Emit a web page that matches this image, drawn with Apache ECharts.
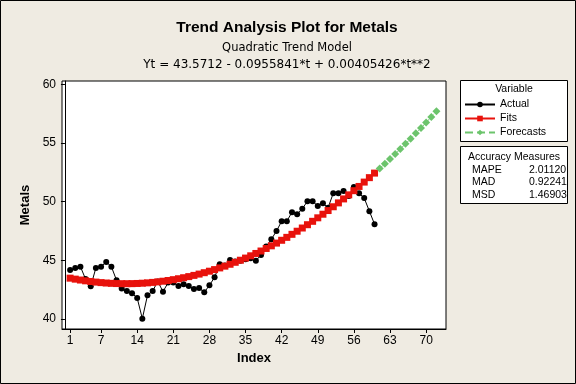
<!DOCTYPE html>
<html>
<head>
<meta charset="utf-8">
<script src="https://cdn.jsdelivr.net/npm/echarts@6/dist/echarts.min.js"></script>
<style>
html,body{margin:0;padding:0;background:#EFEBE2;}
#chart{width:576px;height:384px;}
</style>
</head>
<body>
<div id="chart"></div>
<script>
// Actual observations, t = 1..60
var actual = [44.18,44.35,44.46,43.40,42.80,44.35,44.46,44.86,44.46,43.30,
  42.60,42.39,42.20,41.79,40.03,42.02,42.39,43.20,42.33,43.10,
  43.10,42.81,42.96,42.81,42.56,42.64,42.27,42.87,43.55,44.66,
  44.55,45.03,44.90,44.97,45.10,45.17,44.97,45.46,46.17,46.79,
  47.50,48.33,48.33,49.10,48.93,49.40,50.03,50.03,49.63,49.86,
  49.49,50.71,50.71,50.90,50.49,51.24,50.72,50.30,49.19,48.08];
// Fitted values, t = 1..60
var fits = [43.480,43.396,43.321,43.254,43.195,43.144,43.101,43.066,43.039,43.021,
  43.010,43.008,43.014,43.028,43.050,43.080,43.118,43.164,43.219,43.281,
  43.352,43.431,43.518,43.612,43.716,43.827,43.946,44.073,44.209,44.353,
  44.504,44.664,44.832,45.008,45.192,45.385,45.585,45.793,46.010,46.235,
  46.468,46.708,46.957,47.215,47.480,47.753,48.035,48.324,48.622,48.928,
  49.242,49.564,49.894,50.232,50.578,50.933,51.295,51.666,52.045,52.432];
// Forecasts, t = 61..72
var forecasts = [52.827,53.230,53.641,54.060,54.488,54.923,55.367,55.818,56.278,56.746,57.222,57.706];
var xTicks = [1,7,14,21,28,35,42,49,56,63,70];
var yTicks = [40,45,50,55,60];
var accuracyNames = ['MAPE','MAD','MSD'];
var accuracyValues = ['2.01120','0.92241','1.46903'];

var FONT = 'Liberation Sans';
var actualData = actual.map(function(v,i){return [i+1,v];});
var fitsData = fits.map(function(v,i){return [i+1,v];});
var fcData = forecasts.map(function(v,i){return [i+61,v];});

var chart = echarts.init(document.getElementById('chart'));
var graphics = [
  {type:'rect', shape:{x:0.5,y:0.5,width:575,height:383}, style:{fill:'none',stroke:'#000',lineWidth:1}, silent:true},
  {type:'rect', shape:{x:460.5,y:80.5,width:107,height:61}, style:{fill:'#fff',stroke:'#000',lineWidth:1}, z:-1},
  {type:'rect', shape:{x:460.5,y:146.5,width:107,height:57}, style:{fill:'#fff',stroke:'#000',lineWidth:1}, z:-1},
  {type:'text', x:514, y:89, style:{text:'Variable', fontFamily:FONT, fontSize:10.5, fill:'#000', textAlign:'center', textVerticalAlign:'middle'}},
  {type:'text', x:514, y:157, style:{text:'Accuracy Measures', fontFamily:FONT, fontSize:10.5, fill:'#000', textAlign:'center', textVerticalAlign:'middle'}}
];
accuracyNames.forEach(function(n,i){
  graphics.push({type:'text', x:472, y:170+i*12.5, style:{text:n, fontFamily:FONT, fontSize:10.5, fill:'#000', textVerticalAlign:'middle'}});
  graphics.push({type:'text', x:529, y:170+i*12.5, style:{text:accuracyValues[i], fontFamily:FONT, fontSize:10.5, fill:'#000', textVerticalAlign:'middle'}});
});

chart.setOption({
  backgroundColor:'#EFEBE2',
  animation:false,
  title:[
    {text:'Trend Analysis Plot for Metals', left:282, top:15, textAlign:'center',
     textStyle:{fontFamily:FONT, fontSize:15.5, fontWeight:'bold', color:'#000'}},
    {text:'Quadratic Trend Model', left:282, top:37, textAlign:'center',
     textStyle:{fontFamily:'DejaVu Sans', fontSize:11.5, fontWeight:'normal', color:'#000'}},
    {text:'Yt = 43.5712 - 0.0955841*t + 0.00405426*t**2', left:282, top:54, textAlign:'center',
     textStyle:{fontFamily:'DejaVu Sans', fontSize:12, fontWeight:'normal', color:'#000'}}
  ],
  legend:{
    orient:'vertical', left:459, top:94, itemGap:3, itemWidth:30, itemHeight:7,
    textStyle:{fontFamily:FONT, fontSize:10.5, color:'#000'},
    data:['Actual','Fits','Forecasts']
  },
  grid:{left:62, top:81, width:384, height:248, show:true, backgroundColor:'#fff', borderColor:'#000', borderWidth:1},
  xAxis:{
    type:'value', min:-0.57, max:73.85,
    name:'Index', nameLocation:'middle', nameGap:23,
    nameTextStyle:{fontFamily:FONT, fontSize:13, fontWeight:'bold', color:'#000'},
    splitLine:{show:false},
    axisLine:{show:true, lineStyle:{color:'#000'}},
    axisTick:{show:true, length:4, lineStyle:{color:'#000'}, customValues:xTicks},
    axisLabel:{fontFamily:FONT, fontSize:12, color:'#000', margin:6, customValues:xTicks, showMinLabel:true, showMaxLabel:true}
  },
  yAxis:{
    type:'value', min:39.148, max:60.28,
    name:'Metals', nameLocation:'middle', nameGap:30, nameRotate:90,
    nameTextStyle:{fontFamily:FONT, fontSize:13, fontWeight:'bold', color:'#000'},
    splitLine:{show:false},
    axisLine:{show:true, lineStyle:{color:'#000'}},
    axisTick:{show:true, length:4, lineStyle:{color:'#000'}, customValues:yTicks},
    axisLabel:{fontFamily:FONT, fontSize:12, color:'#000', margin:6, customValues:yTicks}
  },
  series:[
    {name:'Actual', type:'line', data:actualData, symbol:'circle', symbolSize:6,
     itemStyle:{color:'#000'}, lineStyle:{color:'#000', width:1}, z:2},
    {name:'Fits', type:'line', data:fitsData, symbol:'rect', symbolSize:7,
     itemStyle:{color:'#E8120C'}, lineStyle:{color:'#E8120C', width:1}, z:3},
    {name:'Forecasts', type:'line', data:fcData, symbol:'diamond', symbolSize:8,
     itemStyle:{color:'#6CC46C'}, lineStyle:{color:'#6CC46C', width:1, type:'dashed'}, z:3}
  ],
  graphic:graphics
});
</script>
</body>
</html>
